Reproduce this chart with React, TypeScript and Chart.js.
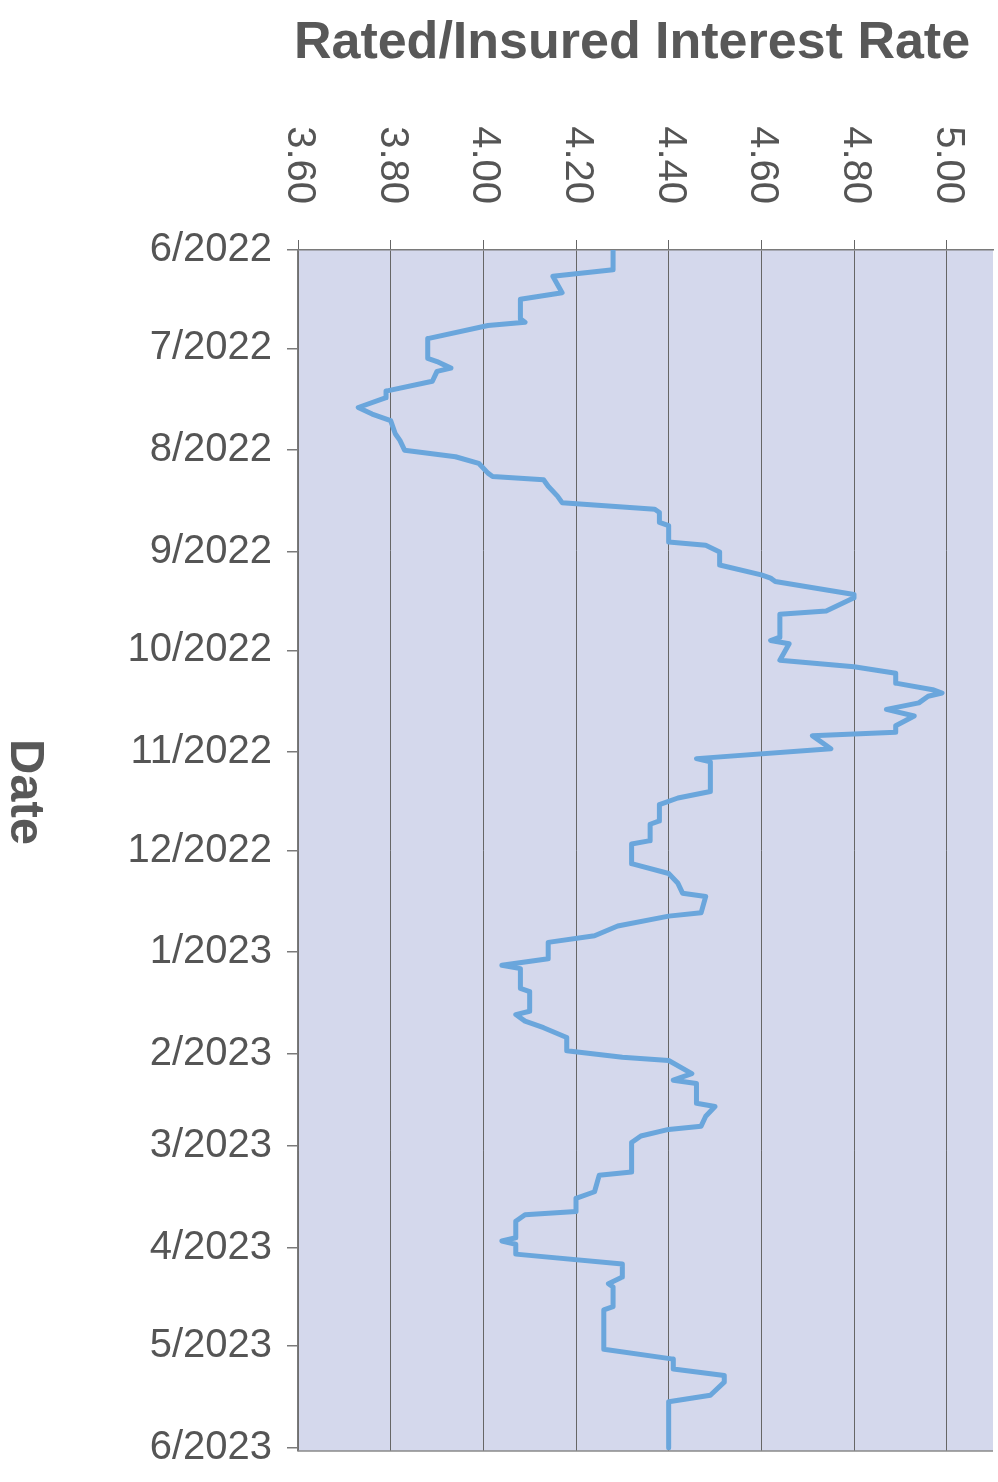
import React, { useEffect, useRef } from "react";
import { Chart, registerables } from "chart.js";

Chart.register(...registerables);

// ---- Data ----
const dates: string[] = [
  "2022-06-01", "2022-06-07", "2022-06-09", "2022-06-14", "2022-06-16", "2022-06-22", "2022-06-23", "2022-06-24",
  "2022-06-28", "2022-07-04", "2022-07-05", "2022-07-07", "2022-07-08", "2022-07-11", "2022-07-14", "2022-07-16",
  "2022-07-19", "2022-07-21", "2022-07-23", "2022-07-27", "2022-07-29", "2022-08-01", "2022-08-03", "2022-08-05",
  "2022-08-08", "2022-08-09", "2022-08-10", "2022-08-12", "2022-08-15", "2022-08-17", "2022-08-19", "2022-08-20",
  "2022-08-23", "2022-08-24", "2022-08-29", "2022-08-30", "2022-09-01", "2022-09-05", "2022-09-08", "2022-09-09",
  "2022-09-10", "2022-09-14", "2022-09-15", "2022-09-19", "2022-09-20", "2022-09-27", "2022-09-28", "2022-09-29",
  "2022-10-04", "2022-10-06", "2022-10-08", "2022-10-11", "2022-10-13", "2022-10-14", "2022-10-15", "2022-10-17",
  "2022-10-19", "2022-10-21", "2022-10-24", "2022-10-26", "2022-10-27", "2022-10-31", "2022-11-03", "2022-11-04",
  "2022-11-13", "2022-11-15", "2022-11-17", "2022-11-22", "2022-11-23", "2022-11-28", "2022-11-29", "2022-12-05",
  "2022-12-08", "2022-12-11", "2022-12-14", "2022-12-15", "2022-12-20", "2022-12-21", "2022-12-24", "2022-12-27",
  "2022-12-29", "2023-01-03", "2023-01-05", "2023-01-06", "2023-01-12", "2023-01-13", "2023-01-19", "2023-01-20",
  "2023-01-22", "2023-01-24", "2023-01-27", "2023-01-31", "2023-02-02", "2023-02-03", "2023-02-07", "2023-02-09",
  "2023-02-10", "2023-02-16", "2023-02-17", "2023-02-20", "2023-02-23", "2023-02-24", "2023-02-26", "2023-02-28",
  "2023-03-09", "2023-03-10", "2023-03-15", "2023-03-17", "2023-03-21", "2023-03-22", "2023-03-24", "2023-03-29",
  "2023-03-30", "2023-03-31", "2023-04-03", "2023-04-06", "2023-04-10", "2023-04-12", "2023-04-13", "2023-04-19",
  "2023-04-20", "2023-05-02", "2023-05-05", "2023-05-08", "2023-05-10", "2023-05-12", "2023-05-16", "2023-05-18",
  "2023-06-01",
];

const rates: number[] = [
  4.28, 4.28, 4.15, 4.17, 4.08, 4.08, 4.09, 4.01,
  3.88, 3.88, 3.90, 3.93, 3.90, 3.89, 3.79, 3.79,
  3.73, 3.76, 3.80, 3.81, 3.82, 3.83, 3.94, 3.99,
  4.01, 4.02, 4.13, 4.14, 4.16, 4.17, 4.37, 4.38,
  4.38, 4.40, 4.40, 4.48, 4.51, 4.51, 4.60, 4.62,
  4.63, 4.80, 4.80, 4.74, 4.64, 4.64, 4.62, 4.66,
  4.64, 4.80, 4.89, 4.89, 4.97, 4.99, 4.96, 4.94,
  4.87, 4.93, 4.89, 4.89, 4.71, 4.75, 4.46, 4.49,
  4.49, 4.42, 4.38, 4.38, 4.36, 4.36, 4.32, 4.32,
  4.40, 4.42, 4.43, 4.48, 4.47, 4.40, 4.29, 4.24,
  4.14, 4.14, 4.04, 4.08, 4.08, 4.10, 4.10, 4.07,
  4.09, 4.13, 4.18, 4.18, 4.30, 4.40, 4.45, 4.41,
  4.46, 4.46, 4.50, 4.48, 4.47, 4.40, 4.34, 4.32,
  4.32, 4.25, 4.24, 4.20, 4.20, 4.09, 4.07, 4.07,
  4.04, 4.07, 4.07, 4.30, 4.30, 4.27, 4.28, 4.28,
  4.26, 4.26, 4.41, 4.41, 4.52, 4.52, 4.49, 4.40,
  4.40,
];

const monthTickDates: string[] = [
  "2022-06-01", "2022-07-01", "2022-08-01", "2022-09-01", "2022-10-01", "2022-11-01", "2022-12-01",
  "2023-01-01", "2023-02-01", "2023-03-01", "2023-04-01", "2023-05-01", "2023-06-01",
];
const monthTickLabels: string[] = [
  "6/2022", "7/2022", "8/2022", "9/2022", "10/2022", "11/2022", "12/2022",
  "1/2023", "2/2023", "3/2023", "4/2023", "5/2023", "6/2023",
];

const rateTicks: number[] = [3.6, 3.8, 4.0, 4.2, 4.4, 4.6, 4.8, 5.0];
const rateTickLabels: string[] = ["3.60", "3.80", "4.00", "4.20", "4.40", "4.60", "4.80", "5.00"];

const titleText = "Rated/Insured Interest Rate";
const yTitleText = "Date";

// ---- Helpers ----
const START = Date.UTC(2022, 5, 1);
const dayOf = (s: string): number => {
  const [y, m, d] = s.split("-").map(Number);
  return (Date.UTC(y, m - 1, d) - START) / 86400000;
};

const FONT = '"Liberation Sans", Arial, Helvetica, sans-serif';
const TEXT = "#555555";
const PLOT_BG = "#d4d8ec";
const GRID = "#666666";
const LINE = "#6aa6dc";

const decorPlugin = {
  id: "decor",
  beforeDraw(chart: any) {
    const { ctx, chartArea: a } = chart;
    ctx.save();
    ctx.fillStyle = PLOT_BG;
    ctx.fillRect(a.left, a.top, a.right - a.left, a.bottom - a.top);
    ctx.restore();
  },
  afterDraw(chart: any) {
    const { ctx, chartArea: a, scales } = chart;
    ctx.save();
    // bottom border
    ctx.strokeStyle = "#8a8a8a";
    ctx.lineWidth = 1.5;
    ctx.beginPath();
    ctx.moveTo(a.left, a.bottom);
    ctx.lineTo(a.right, a.bottom);
    ctx.stroke();

    // rotated rate tick labels (reading top to bottom)
    ctx.fillStyle = TEXT;
    ctx.font = `40px ${FONT}`;
    rateTicks.forEach((v, i) => {
      const x = scales.x.getPixelForValue(v);
      ctx.save();
      ctx.translate(x + 1, a.top - 46);
      ctx.rotate(Math.PI / 2);
      ctx.textAlign = "right";
      ctx.textBaseline = "middle";
      ctx.fillText(rateTickLabels[i], 0, 0);
      ctx.restore();
    });

    // main (axis) title
    ctx.font = `bold 52px ${FONT}`;
    ctx.textAlign = "center";
    ctx.textBaseline = "alphabetic";
    ctx.fillStyle = "#585858";
    ctx.fillText(titleText, 632, 58);

    // vertical "Date" title
    ctx.save();
    ctx.translate(25, 792);
    ctx.rotate(Math.PI / 2);
    ctx.font = `bold 49px ${FONT}`;
    ctx.textAlign = "center";
    ctx.textBaseline = "middle";
    ctx.fillText(yTitleText, 0, 0);
    ctx.restore();

    ctx.restore();
  },
};

export default function App() {
  const canvasRef = useRef<HTMLCanvasElement | null>(null);

  useEffect(() => {
    document.body.style.margin = "0";
    const canvas = canvasRef.current;
    if (!canvas) return;

    const points = dates.map((d, i) => ({ x: rates[i], y: dayOf(d) }));
    const monthValues = monthTickDates.map(dayOf);

    const chart = new Chart(canvas, {
      type: "scatter",
      data: {
        datasets: [
          {
            data: points,
            showLine: true,
            borderColor: LINE,
            backgroundColor: LINE,
            borderWidth: 5,
            pointRadius: 0,
            tension: 0,
            borderJoinStyle: "round",
            borderCapStyle: "round",
          } as any,
        ],
      },
      options: {
        animation: false,
        responsive: true,
        maintainAspectRatio: false,
        layout: { padding: { top: 0, left: 0, right: 5, bottom: 31 } },
        plugins: {
          legend: { display: false },
          tooltip: { enabled: false },
          title: { display: false },
        },
        scales: {
          x: {
            type: "linear",
            position: "top",
            min: 3.6,
            max: 5.1,
            afterBuildTicks: (s: any) => {
              s.ticks = rateTicks.map((v) => ({ value: v }));
            },
            afterFit: (s: any) => {
              s.height = 250;
              s.paddingLeft = 0;
              s.paddingRight = 0;
            },
            ticks: { display: false },
            grid: {
              color: GRID,
              lineWidth: 1,
              drawTicks: true,
              tickLength: 10,
            },
            border: { display: true, color: "#7a7a7a", width: 1.5 },
          },
          y: {
            type: "linear",
            position: "left",
            reverse: true,
            min: 0,
            max: 366,
            afterBuildTicks: (s: any) => {
              s.ticks = monthValues.map((v) => ({ value: v }));
            },
            afterFit: (s: any) => {
              s.width = 298;
              s.paddingTop = 0;
              s.paddingBottom = 0;
            },
            ticks: {
              autoSkip: false,
              padding: 15,
              color: TEXT,
              font: { family: FONT, size: 40 },
              callback: (_v: any, i: number) => monthTickLabels[i],
            },
            grid: {
              drawOnChartArea: false,
              drawTicks: true,
              tickLength: 11,
              color: "#7a7a7a",
              lineWidth: 1.5,
            },
            border: { display: true, color: "#7a7a7a", width: 1.5 },
          },
        },
      },
      plugins: [decorPlugin],
    });

    return () => chart.destroy();
  }, []);

  return (
    <div style={{ width: 998, height: 1482, position: "relative", background: "#ffffff" }}>
      <canvas ref={canvasRef} />
    </div>
  );
}
